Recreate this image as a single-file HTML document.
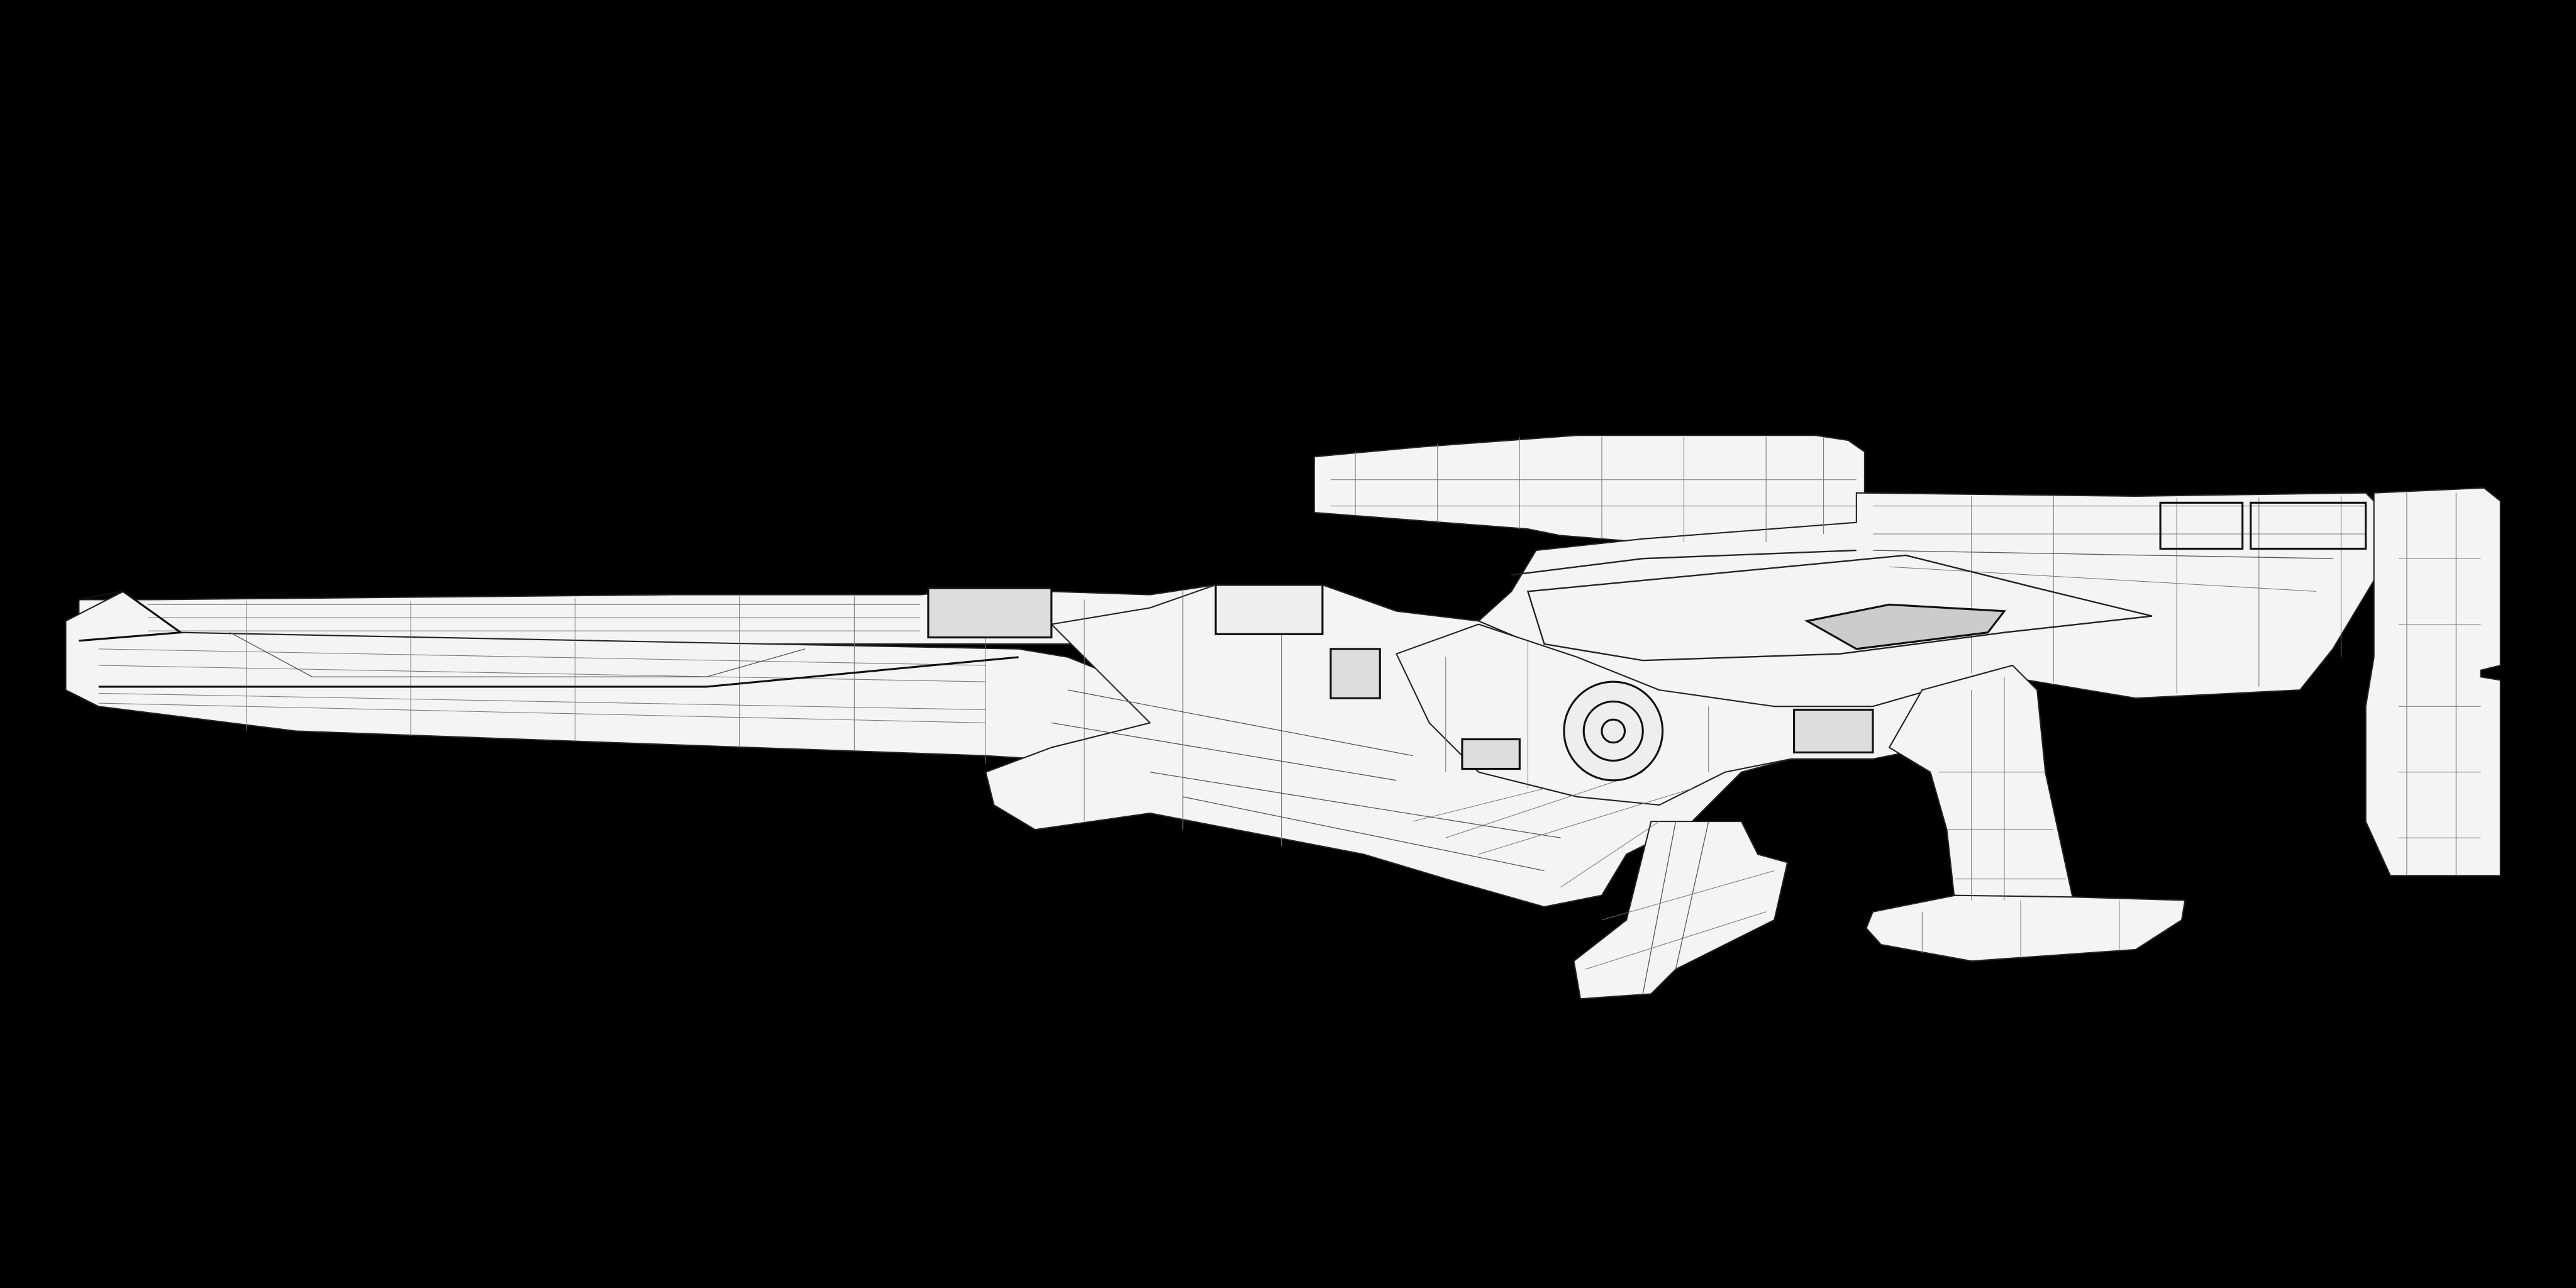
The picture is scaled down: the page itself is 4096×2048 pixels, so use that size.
<!DOCTYPE html>
<html><head><meta charset="utf-8"><style>
html,body{margin:0;padding:0;background:#000;width:4096px;height:2048px;overflow:hidden}
svg{display:block}
</style></head><body>
<svg width="4096" height="2048" viewBox="0 0 1568 784" xmlns="http://www.w3.org/2000/svg">
<rect width="1568" height="784" fill="#000"/>
<g fill="#f4f4f4" stroke="#222" stroke-width="0.8" stroke-linejoin="round">
<polygon points="800,278 865,272 960,265 1105,265 1125,268 1135,275 1135,318 1090,330 1000,330 950,326 930,322 800,312"/>
<polygon points="900,378 920,360 935,335 1000,328 1130,318 1130,300 1300,302 1440,300 1450,310 1450,345 1420,395 1400,420 1300,425 1210,410 1175,420 1140,430 1080,430 1000,420 940,395"/>
<polygon points="1445,300 1512,297 1522,305 1522,405 1510,408 1510,412 1522,414 1522,533 1455,533 1440,500 1440,430 1445,400"/>
<polygon points="48,365 90,365 410,362 560,362 600,358 640,360 700,362 740,356 800,356 810,385 650,392 90,392 48,388"/>
<polygon points="40,378 75,360 110,385 620,395 650,400 700,420 790,430 870,460 850,480 760,470 600,460 400,453 180,445 60,430 40,420"/>
<polygon points="640,380 700,370 740,356 805,356 850,372 900,378 940,395 1000,420 1080,430 1090,462 1060,470 1030,500 990,520 975,545 940,552 880,535 830,520 700,495 630,505 605,490 600,470 640,455 700,440"/>
<polygon points="850,398 900,380 960,400 1010,420 1080,430 1140,430 1175,420 1200,450 1140,462 1090,462 1050,470 1010,490 960,485 900,470 870,440"/>
<polygon points="1170,420 1225,405 1240,420 1245,470 1262,548 1190,550 1185,505 1175,470 1150,455"/>
<polygon points="1140,555 1190,545 1262,546 1330,548 1328,560 1300,578 1200,585 1145,575 1136,565"/>
<polygon points="1005,500 1060,500 1070,520 1088,525 1080,560 1020,590 1005,605 962,608 958,585 990,560"/>
</g>
<g fill="none" stroke="#777" stroke-width="0.4">
<path d="M60,395 L600,405 M60,405 L600,415 M60,422 L600,432 M60,428 L600,440 M90,368 L560,368 M90,376 L560,376 M90,384 L560,384"/>
<path d="M150,366 V445 M250,366 V448 M350,364 V451 M450,363 V454 M520,363 V457 M600,360 V465 M660,365 V500 M720,360 V505 M780,360 V515"/>
<path d="M810,292 L1130,292 M810,308 L1130,308 M825,275 V314 M875,270 V318 M925,266 V322 M975,266 V328 M1025,266 V330 M1075,266 V330 M1110,266 V325"/>
<path d="M1140,308 L1440,308 M1140,325 L1440,325 M1150,345 L1410,360 M1200,302 V410 M1250,302 V415 M1325,303 V422 M1375,303 V418 M1425,302 V400"/>
<path d="M1460,340 L1510,340 M1460,380 L1510,380 M1460,430 L1510,430 M1460,470 L1510,470 M1460,510 L1510,510 M1465,300 V533 M1495,300 V533"/>
<path d="M860,500 L940,480 M880,510 L1000,470 M900,520 L1030,480 M950,540 L1010,500 M880,400 V470 M930,390 V480 M1040,430 V470"/>
<path d="M1180,470 L1245,470 M1185,505 L1250,505 M1190,535 L1258,535 M1200,420 V548 M1220,412 V548 M1170,555 V580 M1230,548 V583 M1290,548 V578"/>
<path d="M975,560 L1080,530 M965,590 L1075,555"/>
</g>
<g fill="none" stroke="#555" stroke-width="0.5">
<path d="M140,385 L190,412 L430,412 L490,395"/>
<path d="M1140,335 L1420,340"/>
<path d="M650,420 L860,460 M640,440 L850,475 M700,470 L950,510 M720,485 L940,530"/>
<path d="M1020,500 L1000,605 M1040,500 L1020,590"/>
</g>
<g fill="none" stroke="#222" stroke-width="0.9">
<path d="M930,360 L1160,338 L1240,358 L1310,375 L1220,385 L1120,398 L1000,402 L940,392 Z"/>
<path d="M920,350 L1000,340 L1130,335"/>
</g>
<g fill="none" stroke="#111" stroke-width="1.2">
<circle cx="982" cy="445" r="30" fill="#eee"/>
<circle cx="982" cy="445" r="18"/>
<circle cx="982" cy="445" r="7"/>
<rect x="740" y="356" width="65" height="30" fill="#eee"/>
<rect x="1315" y="306" width="50" height="28"/>
<rect x="1370" y="306" width="70" height="28"/>
<rect x="1092" y="432" width="48" height="26" fill="#ddd"/>
<polygon points="1100,378 1150,368 1220,372 1210,385 1130,395" fill="#ccc"/>
<rect x="565" y="358" width="75" height="30" fill="#ddd"/>
<rect x="890" y="450" width="35" height="18" fill="#ddd"/>
<rect x="810" y="395" width="30" height="30" fill="#ddd"/>
<polyline points="60,418 140,418 430,418 620,400"/>
<polyline points="48,365 75,360 110,385 48,390"/>
</g>
</svg>
</body></html>
